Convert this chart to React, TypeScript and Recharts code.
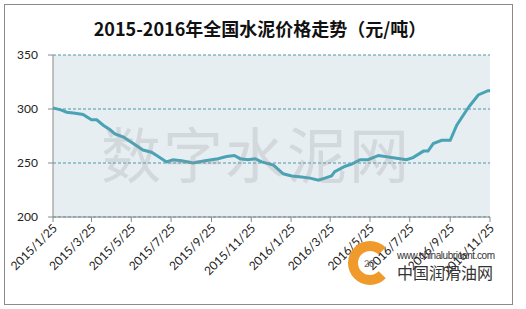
import { LineChart, Line, XAxis, YAxis, CartesianGrid } from 'recharts';

const dates = [
  '2015-01-25', '2015-02-07', '2015-02-15', '2015-02-28', '2015-03-12', '2015-03-25',
  '2015-04-02', '2015-04-12', '2015-04-22', '2015-04-30', '2015-05-13', '2015-05-28',
  '2015-06-12', '2015-06-25', '2015-07-03', '2015-07-18', '2015-07-28', '2015-08-10',
  '2015-08-28', '2015-09-15', '2015-10-05', '2015-10-18', '2015-10-30', '2015-11-08',
  '2015-11-20', '2015-12-01', '2015-12-11', '2015-12-29', '2016-01-13', '2016-01-26',
  '2016-02-10', '2016-02-23', '2016-03-07', '2016-03-17', '2016-03-27', '2016-04-01',
  '2016-04-17', '2016-04-27', '2016-05-10', '2016-05-22', '2016-06-07', '2016-06-27',
  '2016-07-20', '2016-07-30', '2016-08-15', '2016-08-22', '2016-08-30', '2016-09-12',
  '2016-09-25', '2016-10-05', '2016-10-18', '2016-10-25', '2016-11-07', '2016-11-22',
  '2016-11-25',
];
const prices = [
  301, 299, 297, 296, 295, 290,
  290, 285, 281, 277, 274, 268,
  262, 260, 257, 251, 253, 252,
  250, 252, 254, 256, 257, 254,
  253, 254, 251, 248, 240, 238,
  237, 236, 234, 236, 238, 242,
  247, 249, 253, 253, 257, 255,
  253, 255, 261, 261, 268, 271,
  271, 285, 297, 303, 313, 317,
  317,
];
const tickLabels = [
  '2015/1/25', '2015/3/25', '2015/5/25', '2015/7/25', '2015/9/25', '2015/11/25',
  '2016/1/25', '2016/3/25', '2016/5/25', '2016/7/25', '2016/9/25', '2016/11/25',
];
const yTicks = [200, 250, 300, 350];

const DAY = 86400000;
const start = Date.UTC(2015, 0, 25);
const dayOf = (s: string) => {
  const [y, m, d] = s.split(/[-/]/).map(Number);
  return Math.round((Date.UTC(y, m - 1, d) - start) / DAY);
};

const data = dates.map((d, i) => ({ day: dayOf(d), price: prices[i] }));
const xTicks = tickLabels.map(dayOf);
const labelOf = (day: number) => tickLabels[xTicks.indexOf(day)] ?? '';

const font = 'Lato, "Noto Sans CJK SC", sans-serif';

function XTick({ x, y, payload }: any) {
  return (
    <text
      x={x}
      y={y}
      dy={4}
      transform={`rotate(-45 ${x} ${y})`}
      textAnchor="end"
      dominantBaseline="middle"
      fontSize={12}
      fill="#222"
      fontFamily={font}
    >
      {labelOf(payload.value)}
    </text>
  );
}

export default function App() {
  return (
    <div style={{ position: 'absolute', left: 0, top: 0, width: 526, height: 309, background: '#fff' }}>
      <div
        style={{
          position: 'absolute',
          left: 4,
          top: 4,
          width: 507,
          height: 299,
          border: '1px solid #8a8a8a',
        }}
      />
      <div
        style={{
          position: 'absolute',
          left: 0,
          top: 15,
          width: 520,
          textAlign: 'center',
          fontFamily: '"Noto Sans CJK SC", sans-serif',
          fontWeight: 700,
          fontSize: 18,
          color: '#111',
        }}
      >
        2015-2016年全国水泥价格走势（元/吨）
      </div>
      <div style={{ position: 'absolute', left: 0, top: 0 }}>
        <LineChart width={526} height={309} data={data} margin={{ top: 55, right: 36, left: 0, bottom: 0 }}>
          <CartesianGrid
            vertical={false}
            fill="#e6eef2"
            stroke="#4a9aa6"
            strokeDasharray="3 2"
          />
          <XAxis
            dataKey="day"
            type="number"
            domain={[0, 670]}
            ticks={xTicks}
            interval={0}
            tick={<XTick />}
            tickSize={5}
            height={92}
            stroke="#8a8a8a"
          />
          <YAxis
            domain={[200, 350]}
            ticks={yTicks}
            width={53}
            tickSize={5}
            tickMargin={10}
            stroke="#8a8a8a"
            tick={{ fontSize: 12, fill: '#222', fontFamily: font }}
          />
          <Line
            type="linear"
            dataKey="price"
            stroke="#49a3b5"
            strokeWidth={3}
            dot={false}
            isAnimationActive={false}
          />
        </LineChart>
      </div>
      <div
        style={{
          position: 'absolute',
          left: 101,
          top: 112,
          fontSize: 60,
          lineHeight: '80px',
          fontFamily: '"Noto Sans CJK SC", sans-serif',
          color: 'rgba(140,140,140,0.22)',
          letterSpacing: 2,
          pointerEvents: 'none',
        }}
      >
        数字水泥网
      </div>
      <svg style={{ position: 'absolute', left: 340, top: 240 }} width={170} height={50}>
        <circle cx={30} cy={23} r={17} fill="none" stroke="#ef9a2a" strokeWidth={10} strokeDasharray="80 27" strokeDashoffset={-13} />
        <text x={24} y={27} fontSize={9} fill="#666" fontFamily={font}>20</text>
        <text x={57} y={19} fontSize={10} fill="#333" fontFamily="Arial, sans-serif" textLength={98}>www.chinalubricant.com</text>
        <text x={57} y={39} fontSize={16} fill="#333" fontFamily='"Noto Sans CJK SC", sans-serif'>中国润滑油网</text>
      </svg>
    </div>
  );
}
